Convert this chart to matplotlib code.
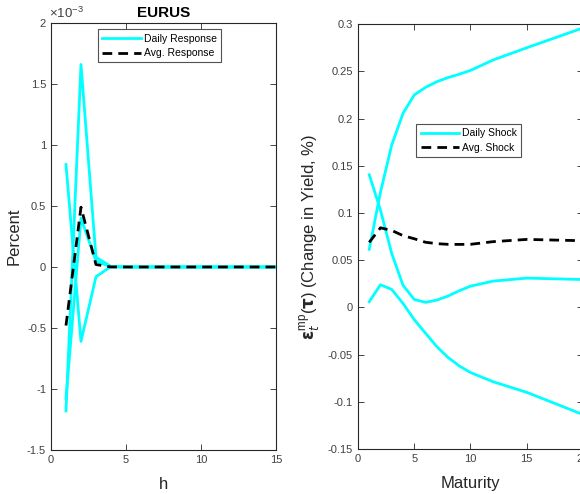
import matplotlib

matplotlib.use("Agg")
import matplotlib.pyplot as plt

plt.rcParams["font.family"] = ["Liberation Sans", "DejaVu Sans"]
plt.rcParams["axes.unicode_minus"] = False
plt.rcParams["mathtext.fontset"] = "custom"
plt.rcParams["mathtext.rm"] = "Liberation Sans"
plt.rcParams["mathtext.bf"] = "DejaVu Sans:bold"

# left panel: impulse responses (units of 1e-3)
h = list(range(1, 16))
resp_a = [0.84, -0.61, -0.08, 0.004, 0, 0, 0, 0, 0, 0, 0, 0, 0, 0, 0]
resp_b = [-1.18, 1.66, 0.08, 0.004, 0, 0, 0, 0, 0, 0, 0, 0, 0, 0, 0]
resp_c = [-1.08, 0.40, 0.05, 0.0, 0, 0, 0, 0, 0, 0, 0, 0, 0, 0, 0]
resp_avg = [-0.48, 0.49, 0.02, 0.0, 0, 0, 0, 0, 0, 0, 0, 0, 0, 0, 0]

# right panel: shock by maturity
maturity = [1, 2, 3, 4, 5, 6, 7, 8, 9, 10, 12, 15, 20]
shock_up = [0.0615, 0.122, 0.172, 0.2055, 0.225, 0.233, 0.239, 0.2434, 0.247, 0.251, 0.262, 0.275, 0.296]
shock_mid = [0.1405, 0.103, 0.057, 0.0235, 0.0084, 0.0053, 0.0077, 0.012, 0.0176, 0.0225, 0.0278, 0.031, 0.0295]
shock_low = [0.006, 0.024, 0.019, 0.0042, -0.013, -0.0273, -0.0415, -0.053, -0.062, -0.069, -0.0787, -0.090, -0.1135]
shock_avg = [0.0689, 0.0843, 0.0815, 0.076, 0.0727, 0.069, 0.0675, 0.0668, 0.0667, 0.0668, 0.0696, 0.072, 0.0706]

CYAN = "#00ffff"
AXC = "#262626"
TXT = "#404040"


def style_axes(ax):
    for s in ax.spines.values():
        s.set_color(AXC)
        s.set_linewidth(0.8)
    ax.tick_params(direction="in", top=True, right=True, length=4,
                   width=0.6, color=AXC, labelcolor=TXT, labelsize=8)


def add_legend(ax, anchor):
    leg = ax.legend(loc="upper left", bbox_to_anchor=anchor, fontsize=7.5,
                    frameon=True, fancybox=False, edgecolor=AXC, handlelength=3.7,
                    handletextpad=0.3, borderpad=0.4, labelspacing=0.45,
                    borderaxespad=0)
    leg.get_frame().set_linewidth(0.8)
    return leg


fig = plt.figure(figsize=(5.8, 4.94), dpi=100)

ax1 = fig.add_axes([0.0879, 0.0891, 0.388, 0.8644])
ax1.plot(h, resp_a, color=CYAN, lw=2, label="Daily Response")
ax1.plot(h, resp_b, color=CYAN, lw=2)
ax1.plot(h, resp_c, color=CYAN, lw=2)
ax1.plot(h, resp_avg, color="black", lw=2, ls=(0, (3.5, 2.2)), label="Avg. Response")
ax1.set_xlim(0, 15)
ax1.set_ylim(-1.5, 2)
ax1.set_xticks([0, 5, 10, 15])
ax1.set_yticks([-1.5, -1, -0.5, 0, 0.5, 1, 1.5, 2])
ax1.set_yticklabels(["-1.5", "-1", "-0.5", "0", "0.5", "1", "1.5", "2"])
style_axes(ax1)
ax1.text(-0.01, 1.004, r"$\times10^{-3}$", transform=ax1.transAxes, fontsize=9.5,
         color=TXT, ha="left", va="bottom")
ax1.set_title("EURUS", fontsize=11, fontweight="bold", pad=4)
ax1.set_xlabel("h", fontsize=12, color=AXC, labelpad=9)
ax1.set_ylabel("Percent", fontsize=12, color=AXC, labelpad=4)
add_legend(ax1, (0.21, 0.985))

ax2 = fig.add_axes([0.6172, 0.0911, 0.388, 0.860])
ax2.plot(maturity, shock_up, color=CYAN, lw=2, label="Daily Shock")
ax2.plot(maturity, shock_mid, color=CYAN, lw=2)
ax2.plot(maturity, shock_low, color=CYAN, lw=2)
ax2.plot(maturity, shock_avg, color="black", lw=2, ls=(0, (3.5, 2.2)), label="Avg. Shock")
ax2.set_xlim(0, 20)
ax2.set_ylim(-0.15, 0.3)
ax2.set_xticks([0, 5, 10, 15, 20])
ax2.set_yticks([-0.15, -0.1, -0.05, 0, 0.05, 0.1, 0.15, 0.2, 0.25, 0.3])
ax2.set_yticklabels(["-0.15", "-0.1", "-0.05", "0", "0.05", "0.1", "0.15", "0.2", "0.25", "0.3"])
style_axes(ax2)
ax2.set_xlabel("Maturity", fontsize=12, color=AXC, labelpad=9)
ax2.set_ylabel(r"$\mathbf{\epsilon}_t^{\mathrm{mp}}(\mathbf{\tau})$ (Change in Yield, %)",
               fontsize=12, color=AXC, labelpad=4)
add_legend(ax2, (0.26, 0.765))

fig.savefig("out.png", dpi=100)
